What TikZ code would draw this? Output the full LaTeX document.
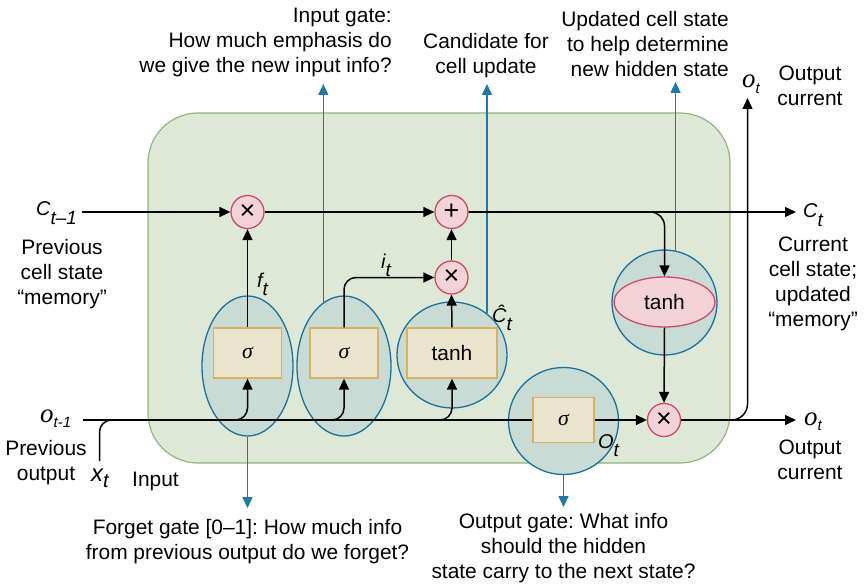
\documentclass[tikz,border=0pt]{standalone}
\usepackage{fontspec}
\setmainfont{Liberation Sans}
\newfontfamily\symserif{Liberation Serif}
\usetikzlibrary{shapes.geometric,arrows.meta,calc}
\frenchspacing

\definecolor{cellfill}{HTML}{DDE9D6}
\definecolor{celledge}{HTML}{93B47E}
\definecolor{gatefill}{HTML}{C8DCD5}
\definecolor{gateedge}{HTML}{1D6F9C}
\definecolor{boxfill}{HTML}{EAE4CD}
\definecolor{boxedge}{HTML}{D8B163}
\definecolor{opfill}{HTML}{F3D3D8}
\definecolor{opedge}{HTML}{CF4B65}
\definecolor{infoblue}{HTML}{2078A6}

% italic symbol with a lowered index
\newcommand\symb[2]{{\fontsize{20}{20}\selectfont\itshape #1\raisebox{-8.5pt}{\fontsize{19}{19}\selectfont #2}}}
\newcommand\osym[1]{{\symserif\itshape\fontsize{27}{27}\selectfont o}\raisebox{-6pt}{\fontsize{15}{15}\selectfont\itshape #1}}
\newcommand\sig{{\symserif\itshape\fontsize{22}{22}\selectfont σ}}

\tikzset{
  txt/.style={font=\fontsize{21}{25}\selectfont, inner sep=0pt, align=center},
  sym/.style={inner sep=0pt, anchor=base west},
  cellbox/.style={rectangle, rounded corners=50bp, draw=celledge, fill=cellfill, line width=1.2bp},
  gate/.style={ellipse, draw=gateedge, fill=gatefill, line width=1.3bp, inner sep=0pt},
  box/.style={rectangle, draw=boxedge, fill=boxfill, line width=1.3bp, inner sep=0pt,
              font=\fontsize{21}{25}\selectfont},
  tanhell/.style={ellipse, draw=opedge, fill=opfill, line width=1.3bp, inner sep=0pt,
              font=\fontsize{21}{25}\selectfont},
  op/.style={circle, draw=opedge, fill=opfill, line width=1.3bp, inner sep=0pt,
             minimum size=33bp, font=\fontsize{27}{27}\selectfont},
  ln/.style={draw=black, line width=1.5bp},
  arr/.style={ln, -{Triangle[length=11bp,width=10bp]}},
  barr/.style={draw=infoblue, line width=1.6bp, -{Triangle[length=11bp,width=10bp]}},
}

\begin{document}
\begin{tikzpicture}[x=1bp,y=-1bp]
\useasboundingbox (0,0) rectangle (864,586);

% cell body
\node[cellbox, minimum width=582bp, minimum height=350bp] (cell) at (439,288) {};

% gate regions
\node[gate, minimum width=91bp,  minimum height=140bp] (fg) at (247.5,366) {};
\node[gate, minimum width=94bp,  minimum height=140bp] (ig) at (344,366) {};
\node[gate, minimum width=110bp, minimum height=106bp] (cg) at (452,355) {};
\node[gate, minimum width=110bp, minimum height=107bp] (og) at (563.5,421) {};
\node[gate, minimum width=105bp, minimum height=105bp] (hc) at (664.5,302.5) {};

% activation boxes
\node[box, minimum width=68bp, minimum height=50bp] (fs) at (247.5,353) {\sig};
\node[box, minimum width=68bp, minimum height=50bp] (is) at (344,353) {\sig};
\node[box, minimum width=90bp, minimum height=50bp] (ts) at (452,353) {tanh};
\node[box, minimum width=61bp, minimum height=45bp] (os) at (563.5,420) {\sig};
\node[tanhell, minimum width=101bp, minimum height=50bp] (th) at (664.5,302) {tanh};

% pointwise operations
\node[op] (fm) at (247.5,212) {×};
\node[op] (pl) at (451.5,212) {+};
\node[op] (im) at (451.5,277.5) {×};
\node[op] (om) at (664,420) {×};

% symbols
\node[sym] (ctm) at (36,216) {\symb{C}{t–1}};
\node[sym] (ctl) at (803,218) {\symb{C}{t}};
\node[sym] (ftl) at (257,287) {\symb{f}{t}};
\node[sym] (itl) at (381,268) {\symb{i}{t}};
\node[sym] (chl) at (492,322) {\symb{\^C}{t}};
\node[sym] (otl) at (598,448) {\symb{O}{t}};
\node[sym] (xtl) at (91,481) {{\fontsize{24}{24}\selectfont\itshape x}\raisebox{-7pt}{\fontsize{20}{20}\selectfont\itshape t}};
\node[sym] (otm) at (40,422) {\osym{t-1}};
\node[sym] (ott) at (742,88) {\osym{t}};
\node[sym] (otr) at (804,425) {\osym{t}};

% texts
\node[txt, align=right, anchor=north east] (igt) at (392,8) {Input gate:\\How much emphasis do\\we give the new input info?};
\node[txt, anchor=north] (cdt) at (486,33) {Candidate for\\cell update};
\node[txt, align=right, anchor=north east] (upt) at (729,11) {Updated cell state\\to help determine\\new hidden state};
\node[txt, anchor=north] (oct) at (810,66) {Output\\current};
\node[txt, anchor=north] (cct) at (813,237) {Current\\cell state;\\updated\\“memory”};
\node[txt, anchor=north] (ocb) at (810,440) {Output\\current};
\node[txt, anchor=north] (pct) at (62,239) {Previous\\cell state\\“memory”};
\node[txt, anchor=north] (pot) at (46,440) {Previous\\output};
\node[txt, anchor=base west] (inp) at (132,486) {Input};
\node[txt, anchor=north] (fgt) at (247.5,519) {Forget gate [0–1]: How much info\\from previous output do we forget?};
\node[txt, anchor=north] (ogt) at (563.5,513) {Output gate: What info\\should the hidden\\state carry to the next state?};

% free line ends
\coordinate (ol)  at (83,420);
\coordinate (c0)  at (82,212);
\coordinate (xt0) at (99.5,461);
\coordinate (ctip) at (796,212);
\coordinate (otip) at (796,420);
\coordinate (uptip) at (747.5,98);
\coordinate (igtip) at (0,84);
\coordinate (hctip) at (0,82);
\coordinate (fgtip) at (247.5,508);
\coordinate (ogtip) at (563.5,507);

% explanatory arrows
\draw[barr] (fg.south) -- (fgtip);
\draw[barr] (ig.108) -- (ig.108 |- igtip);
\draw[barr] (cg.50) -- (cg.50 |- igtip);
\draw[barr] (hc.78) -- (hc.78 |- hctip);
\draw[barr] (og.south) -- (ogtip);

% inputs
\draw[ln] (ol) -- (os.west);
\draw[ln, rounded corners=12bp] (xt0) |- ($(ol)+(45,0)$);
\draw[arr, rounded corners=12bp] ($(fs.south |- ol)+(-22,0)$) -| (fs.south);
\draw[arr, rounded corners=12bp] ($(is.south |- ol)+(-22,0)$) -| (is.south);
\draw[arr, rounded corners=12bp] ($(ts.south |- ol)+(-22,0)$) -| (ts.south);

% gate outputs
\draw[arr] (fs.north) -- (fm.south);
\draw[arr, rounded corners=12bp] (is.north) |- (im.west);
\draw[arr] (ts.north) -- (im.south);
\draw[arr] (im.north) -- (pl.south);

% cell state path
\draw[arr] (c0) -- (fm.west);
\draw[arr] (fm.east) -- (pl.west);
\draw[arr] (pl.east) -- (ctip);
\draw[arr, rounded corners=14bp] (pl.east) -| (th.north);
\draw[arr] (th.south) -- (om.north);

% output path
\draw[arr] (os.east) -- (om.west);
\draw[arr] (om.east) -- (otip);
\draw[arr, rounded corners=16bp] (om.east) -| (uptip);
\end{tikzpicture}
\end{document}
